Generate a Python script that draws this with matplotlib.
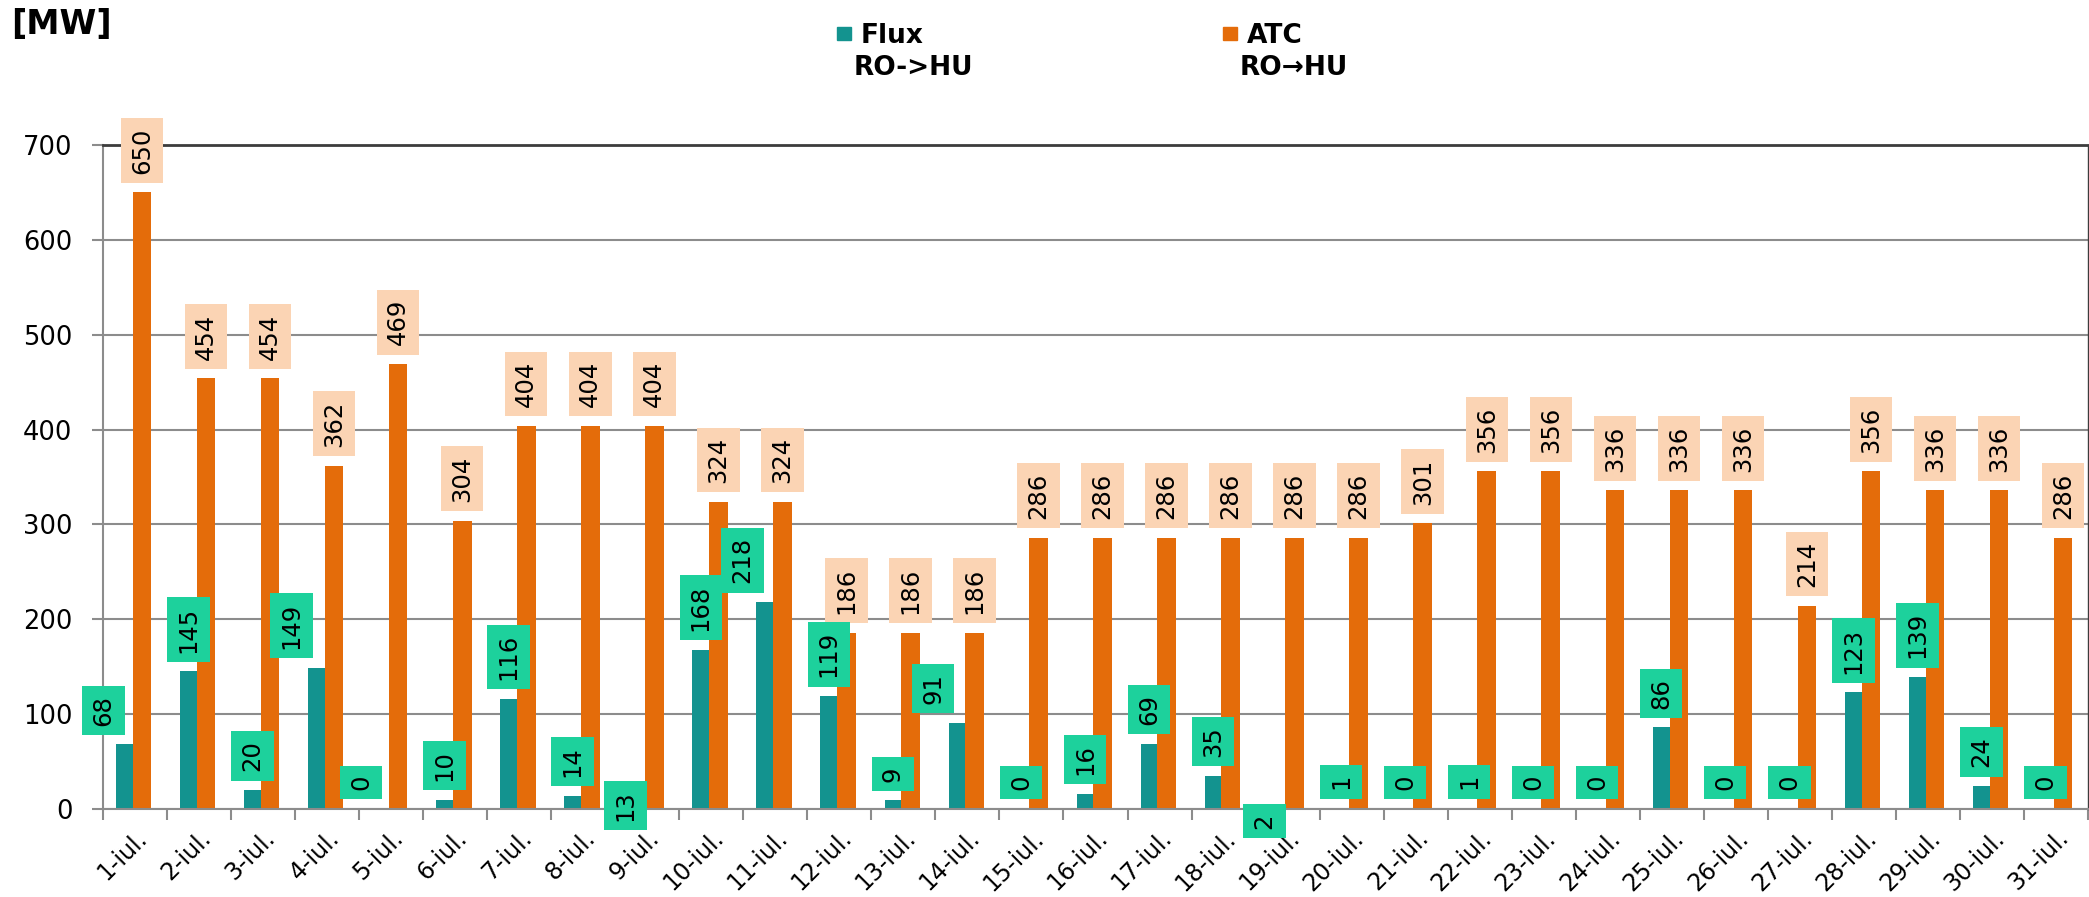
import matplotlib
matplotlib.use("Agg")
import matplotlib.pyplot as plt
from matplotlib.patches import Rectangle
import numpy as np

# Daily values, July
days = [f"{d}-iul." for d in range(1, 32)]
flux = [68, 145, 20, 149, 0, 10, 116, 14, 13, 168, 218, 119, 9, 91, 0, 16,
        69, 35, 2, 1, 0, 1, 0, 0, 86, 0, 0, 123, 139, 24, 0]
atc = [650, 454, 454, 362, 469, 304, 404, 404, 404, 324, 324, 186, 186, 186, 286, 286,
       286, 286, 286, 286, 301, 356, 356, 336, 336, 336, 214, 356, 336, 336, 286]

FLUX_COLOR = "#13938f"
ATC_COLOR = "#e46c0a"
FLUX_BOX = "#1dd19c"
ATC_BOX = "#fbd4b4"
GRID = "#8c8c8c"

# manual nudges (points) for flux labels that were moved in the original
flux_nudge = {0: (-15, 0), 3: (-18, 0), 4: (-14, 0), 8: (-8, -31),
              10: (-16, 0), 13: (-17, 0), 18: (-9, -29)}

W, H = 2089, 897
fig = plt.figure(figsize=(W / 100, H / 100), dpi=100)
ax = fig.add_axes([103 / W, 1 - 809 / H, (2088 - 103) / W, (809 - 145) / H])

x = np.arange(len(days))
fx, ax_off = -0.165, 0.11
ax.bar(x + fx, flux, width=0.26, color=FLUX_COLOR, zorder=2)
ax.bar(x + ax_off, atc, width=0.29, color=ATC_COLOR, zorder=2)

lab_font = dict(fontsize=17.5, family="DejaVu Sans", rotation=90,
                ha="center", va="bottom", zorder=4)
box = dict(boxstyle="square,pad=0.38", ec="none")

for i, v in enumerate(atc):
    ax.annotate(str(v), (x[i] + ax_off, v), xytext=(0, 13.5), textcoords="offset points",
                bbox=dict(box, fc=ATC_BOX), **lab_font)

for i, v in enumerate(flux):
    dx, dy = flux_nudge.get(i, (0, 0))
    ax.annotate(str(v), (x[i] + fx, v), xytext=(dx, 13.5 + dy), textcoords="offset points",
                bbox=dict(box, fc=FLUX_BOX), **lab_font)

ax.set_xlim(-0.5, len(days) - 0.5)
ax.set_ylim(0, 700)
ax.set_yticks(range(0, 701, 100))
ax.tick_params(axis="y", length=8, width=1.5, color=GRID, pad=14, labelsize=18.5)

ax.set_xticks(x)
ax.set_xticklabels(days, rotation=45, ha="right", rotation_mode="anchor", fontsize=17)
ax.tick_params(axis="x", which="major", length=0, pad=12)
ax.set_xticks(np.arange(len(days) + 1) - 0.5, minor=True)
ax.tick_params(axis="x", which="minor", length=8, width=1.5, color=GRID)

ax.yaxis.grid(True, color=GRID, linewidth=1.5)
ax.set_axisbelow(True)
ax.spines["top"].set_color("#3c3c3c")
ax.spines["top"].set_linewidth(2)
ax.spines["right"].set_color("#3c3c3c")
ax.spines["right"].set_linewidth(1)
for s in ("left", "bottom"):
    ax.spines[s].set_color(GRID)
    ax.spines[s].set_linewidth(1.5)

# unit label and legend
fig.text(11 / W, 1 - 34 / H, "[MW]", fontsize=24, fontweight="bold", va="baseline")

legend_items = [(837, FLUX_COLOR, "Flux", "RO->HU"), (1223, ATC_COLOR, "ATC", "RO\u2192HU")]
for lx, col, top, bottom in legend_items:
    fig.patches.append(Rectangle((lx / W, 1 - 40 / H), 14 / W, 13 / H,
                                 transform=fig.transFigure, color=col))
    fig.text((lx + 24) / W, 1 - 43 / H, top, fontsize=19, fontweight="bold", va="baseline")
    fig.text((lx + 17) / W, 1 - 75 / H, bottom, fontsize=19, fontweight="bold", va="baseline")

fig.savefig("out.png", dpi=100)
